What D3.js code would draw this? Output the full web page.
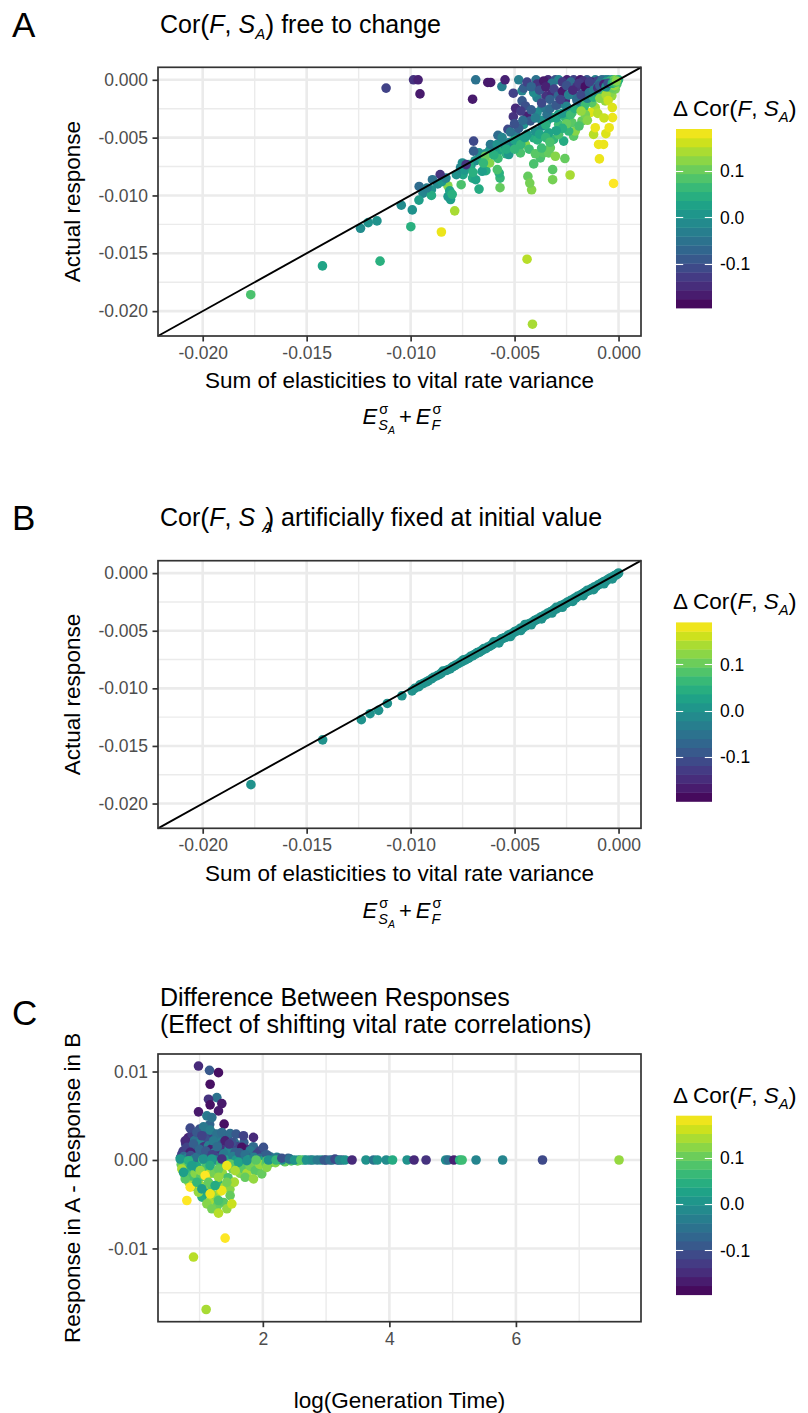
<!DOCTYPE html>
<html><head><meta charset="utf-8">
<script src="https://cdn.jsdelivr.net/npm/d3@7"></script>
<style>
body{margin:0;background:#fff}
svg{display:block}
text{font-family:"Liberation Sans",Arial,Helvetica,sans-serif;white-space:pre}
</style>
</head><body>
<svg id="chart" width="808" height="1413"></svg>
<script>
// ---------------- DATA ----------------
// Panel A: [sum of elasticities, actual response, delta Cor(F,S_A)]
const panelA = [
[-0.01769,-0.01858,0.08],[-0.01424,-0.01609,0.03],[-0.01147,-0.01568,0.05],[-0.00999,-0.01270,0.05],
[-0.01241,-0.01284,-0.01],[-0.01204,-0.01235,0.00],[-0.01162,-0.01220,0.00],[-0.01045,-0.01084,-0.01],
[-0.00992,-0.01125,0.00],[-0.00852,-0.01316,0.18],[-0.00788,-0.01133,0.14],[-0.00808,-0.01035,0.02],
[-0.00440,-0.01551,0.15],[-0.00414,-0.02113,0.14],[-0.00024,-0.00896,0.19],[-0.00092,-0.00684,0.18],
[-0.00233,-0.00823,0.14],[-0.00317,-0.00864,0.11],[-0.00317,-0.00777,0.09],[-0.00258,-0.00681,0.10],
[-0.00418,-0.00951,0.12],[-0.00436,-0.00835,0.10],[-0.00427,-0.00893,0.11],[-0.00570,-0.00933,0.10],
[-0.00570,-0.00850,0.06],[-0.00574,-0.00806,0.05],[-0.00671,-0.00945,0.04],[-0.00702,-0.00850,0.04],
[-0.00757,-0.00907,0.08],[-0.00820,-0.01010,0.01],[-0.00821,-0.00916,0.12],[-0.00812,-0.00960,0.03],
[-0.00748,-0.00820,0.03],[-0.00638,-0.00786,0.04],[-0.00583,-0.00777,0.08],[-0.00620,-0.00719,0.12],
[-0.00675,-0.00690,0.12],[-0.00940,-0.00980,-0.02],[-0.00900,-0.00950,0.00],[-0.00870,-0.00900,-0.01],
[-0.00850,-0.00880,0.01],[-0.00830,-0.00850,-0.02],[-0.00780,-0.00820,0.00],[-0.00760,-0.00760,-0.02],
[-0.00740,-0.00780,0.01],[-0.00710,-0.00740,0.02],[-0.00690,-0.00700,0.00],[-0.00660,-0.00680,0.03],
[-0.00640,-0.00640,-0.01],[-0.00620,-0.00610,0.01],[-0.00600,-0.00580,0.02],[-0.00580,-0.00620,0.03],
[-0.00560,-0.00570,0.02],[-0.00540,-0.00640,0.05],[-0.00520,-0.00540,0.01],[-0.00800,-0.00990,0.05],
[-0.00960,-0.01040,0.02],[-0.00900,-0.01000,0.04],[-0.00751,-0.00719,-0.01],[-0.00719,-0.00733,0.04],
[-0.00656,-0.00791,0.02],[-0.00687,-0.00864,0.03],[-0.00608,-0.00603,0.01],[-0.00671,-0.00632,0.00],
[-0.00496,-0.00472,-0.03],[-0.00640,-0.00661,0.10],[-0.00616,-0.00559,-0.04],[-0.00584,-0.00559,0.00],
[-0.00528,-0.00646,0.01],[-0.00552,-0.00588,0.05],[-0.00512,-0.00574,0.02],[-0.00408,-0.00501,0.04],
[-0.00448,-0.00559,0.12],[-0.00472,-0.00632,0.08],[-0.00408,-0.00727,0.08],[-0.00376,-0.00675,0.08],
[-0.00360,-0.00632,0.09],[-0.00336,-0.00632,0.10],[-0.00304,-0.00661,0.12],[-0.00328,-0.00588,0.10],
[-0.00264,-0.00530,0.04],[-0.00312,-0.00516,0.06],[-0.00288,-0.00472,0.08],[-0.00216,-0.00487,0.09],
[-0.00208,-0.00443,0.12],[-0.00288,-0.00385,0.07],[-0.00240,-0.00443,0.06],[-0.00224,-0.00371,0.09],
[-0.00176,-0.00356,0.10],[-0.00120,-0.00472,0.15],[-0.00096,-0.00559,0.18],[-0.00072,-0.00559,0.18],
[-0.00061,-0.00466,0.17],[-0.00045,-0.00414,0.18],[-0.00112,-0.00414,0.18],[-0.00029,-0.00327,0.18],
[-0.00032,-0.00139,0.13],[-0.00064,-0.00182,0.13],[-0.00112,-0.00240,0.14],[-0.00136,-0.00284,0.17],
[-0.00200,-0.00240,0.09],[-0.00259,-0.00304,0.12],[-0.00288,-0.00298,0.02],[-0.00240,-0.00255,0.00],
[-0.00192,-0.00211,0.03],[-0.00144,-0.00168,0.01],[-0.00096,-0.00124,0.04],[-0.00048,-0.00081,0.06],
[-0.00008,-0.00037,0.08],[-0.00320,-0.00327,0.04],[-0.00256,-0.00327,0.06],[-0.00224,-0.00284,0.08],
[-0.00168,-0.00240,0.06],[-0.00128,-0.00197,0.09],[-0.00080,-0.00153,0.11],[-0.00040,-0.00110,0.12],
[-0.00016,-0.00081,0.11],[-0.00440,-0.00472,0.01],[-0.00480,-0.00516,0.02],[-0.00528,-0.00545,-0.02],
[-0.00548,-0.00560,-0.01],[-0.00456,-0.00385,0.00],[-0.00400,-0.00443,0.00],[-0.00336,-0.00458,0.03],
[-0.00368,-0.00400,-0.01],[-0.00344,-0.00356,0.02],
[-0.00370,-0.00350,0.00],[-0.00350,-0.00390,0.05],[-0.00300,-0.00330,0.03],[-0.00270,-0.00290,0.01],
[-0.00230,-0.00300,0.07],[-0.00210,-0.00250,0.05],[-0.00180,-0.00200,0.02],[-0.00160,-0.00210,0.07],
[-0.00150,-0.00160,-0.02],[-0.00120,-0.00150,0.05],[-0.00100,-0.00110,0.02],[-0.00090,-0.00160,0.12],
[-0.00070,-0.00090,0.07],[-0.00060,-0.00130,0.14],[-0.00050,-0.00060,0.03],[-0.00030,-0.00070,0.10],
[-0.00020,-0.00050,0.13],[-0.00010,-0.00020,0.09],[-0.00050,-0.00180,0.16],[-0.00100,-0.00290,0.15],
[-0.00160,-0.00300,0.11],[-0.00180,-0.00270,0.13],[-0.00030,-0.00240,0.17],[-0.00070,-0.00330,0.16],
[-0.00150,-0.00350,0.12],[-0.00190,-0.00400,0.08],[-0.00250,-0.00380,0.10],[-0.00270,-0.00420,0.05],
[-0.00300,-0.00440,0.03],[-0.00500,-0.00520,0.03],[-0.00470,-0.00560,0.06],[-0.00450,-0.00500,0.02],
[-0.00430,-0.00600,0.07],[-0.00390,-0.00520,0.05],[-0.00380,-0.00470,0.03],[-0.00350,-0.00500,0.06],
[-0.00330,-0.00540,0.08],[-0.00400,-0.00640,0.09],[-0.00370,-0.00590,0.07],[-0.00540,-0.00600,0.04],
[-0.00500,-0.00600,0.06],[-0.00580,-0.00680,0.07],[-0.00600,-0.00650,0.05],[-0.00650,-0.00720,0.06],
[-0.00700,-0.00800,0.05],
[-0.00697,-0.00530,-0.11],[-0.00697,-0.00617,-0.08],[-0.00733,-0.00733,-0.14],[-0.00858,-0.00820,-0.14],
[-0.00895,-0.00864,-0.05],[-0.00959,-0.00922,-0.06],[-0.00922,-0.00936,-0.03],[-0.00532,-0.00429,-0.11],
[-0.00506,-0.00319,-0.14],[-0.00495,-0.00246,-0.15],[-0.00506,-0.00116,-0.12],[-0.00561,-0.00058,-0.03],
[-0.00546,0.00000,-0.16],[-0.00629,-0.00023,-0.17],[-0.00615,-0.00023,-0.17],[-0.00687,0.00000,-0.05],
[-0.00702,-0.00168,-0.17],[-0.00986,0.00000,-0.14],[-0.00964,0.00000,-0.16],[-0.01118,-0.00072,-0.12],
[-0.00955,-0.00122,-0.17],[-0.00480,0.00000,-0.03],[-0.00464,-0.00095,-0.02],[-0.00456,-0.00072,-0.08],
[-0.00397,0.00000,-0.05],[-0.00392,-0.00037,-0.14],[-0.00339,0.00000,-0.15],[-0.00304,0.00000,-0.10],
[-0.00288,0.00000,-0.02],[-0.00248,0.00000,-0.16],[-0.00216,0.00000,-0.12],[-0.00208,-0.00037,-0.16],
[-0.00184,0.00000,-0.17],[-0.00152,0.00000,-0.09],[-0.00112,0.00000,-0.02],[-0.00064,0.00000,-0.01],
[-0.00170,-0.00010,-0.14],[-0.00130,-0.00020,-0.16],[-0.00100,-0.00010,-0.12],[-0.00080,0.00000,-0.06],
[-0.00050,0.00000,-0.03],[-0.00030,0.00000,0.00],[-0.00270,-0.00020,-0.13],[-0.00230,-0.00020,-0.06],
[-0.00360,-0.00010,-0.17],[-0.00320,-0.00030,-0.04],[-0.00200,-0.00060,-0.14],[-0.00150,-0.00040,-0.17],
[-0.00120,-0.00050,-0.11],[-0.00090,-0.00030,-0.05],[-0.00060,-0.00020,0.02],[-0.00040,-0.00010,0.06],
[-0.00020,0.00000,0.10],[-0.00010,-0.00005,0.14],[0.00000,0.00000,0.05],
[-0.00392,-0.00153,-0.03],[-0.00408,-0.00110,-0.01],[-0.00464,-0.00182,-0.09],[-0.00448,-0.00226,-0.10],
[-0.00349,-0.00139,-0.14],[-0.00320,-0.00119,-0.15],[-0.00288,-0.00211,-0.02],[-0.00256,-0.00182,-0.15],
[-0.00208,-0.00139,-0.05],[-0.00160,-0.00095,0.00],[-0.00112,-0.00066,-0.04],[-0.00368,-0.00240,-0.04],
[-0.00440,-0.00313,-0.16],[-0.00424,-0.00356,-0.09],[-0.00392,-0.00284,-0.01],[-0.00344,-0.00298,-0.05],
[-0.00440,-0.00020,-0.12],[-0.00420,-0.00060,-0.07],[-0.00380,-0.00090,-0.10],[-0.00350,-0.00060,-0.16],
[-0.00330,-0.00170,-0.08],[-0.00310,-0.00080,-0.12],[-0.00290,-0.00140,-0.07],[-0.00270,-0.00100,-0.17],
[-0.00250,-0.00050,-0.10],[-0.00240,-0.00130,-0.03],[-0.00220,-0.00090,-0.15],[-0.00200,-0.00180,-0.06],
[-0.00190,-0.00030,-0.13],[-0.00180,-0.00130,-0.11],[-0.00160,-0.00060,-0.18],[-0.00140,-0.00110,-0.05],
[-0.00140,-0.00020,-0.12],[-0.00120,-0.00090,-0.03],[-0.00100,-0.00070,-0.14],[-0.00090,-0.00050,-0.08],
[-0.00070,-0.00040,-0.16],[-0.00060,-0.00060,0.00],[-0.00050,-0.00030,-0.10],[-0.00030,-0.00030,0.04],
[-0.00020,-0.00020,0.08],[-0.00010,-0.00010,0.12],
[-0.00580,-0.00480,-0.06],[-0.00560,-0.00500,-0.02],[-0.00520,-0.00450,-0.05],[-0.00480,-0.00420,-0.08],
[-0.00500,-0.00380,-0.10],[-0.00470,-0.00270,-0.13],[-0.00460,-0.00350,-0.06],[-0.00420,-0.00260,-0.08],
[-0.00400,-0.00330,-0.03],[-0.00370,-0.00200,-0.11],[-0.00330,-0.00250,-0.06],[-0.00300,-0.00220,-0.09],
[-0.00280,-0.00170,-0.12],[-0.00250,-0.00230,-0.02]
];

// Panel B: [sum of elasticities, actual response] (correlation fixed, delta Cor = 0)
const panelB = [
[-0.01768,-0.01836],[-0.01423,-0.01447],[-0.01237,-0.01272],[-0.01195,-0.01220],[-0.01154,-0.01191],
[-0.01112,-0.01131],[-0.01042,-0.01065],[-0.00993,-0.01022],[-0.00980,-0.01000],[-0.00960,-0.00985],
[-0.00940,-0.00958],[-0.00915,-0.00935],[-0.00890,-0.00905],[-0.00860,-0.00878],[-0.00845,-0.00850],
[-0.00820,-0.00838],[-0.00800,-0.00815],[-0.00785,-0.00800],[-0.00760,-0.00772],[-0.00745,-0.00752],
[-0.00730,-0.00745],[-0.00712,-0.00722],[-0.00695,-0.00708],[-0.00680,-0.00690],[-0.00662,-0.00676],
[-0.00648,-0.00655],[-0.00630,-0.00642],[-0.00612,-0.00625],[-0.00598,-0.00606],[-0.00580,-0.00592],
[-0.00565,-0.00572],[-0.00550,-0.00561],[-0.00532,-0.00540],[-0.00518,-0.00528],[-0.00500,-0.00508],
[-0.00485,-0.00496],[-0.00470,-0.00476],[-0.00452,-0.00463],[-0.00438,-0.00444],[-0.00420,-0.00430],
[-0.00405,-0.00412],[-0.00390,-0.00399],[-0.00372,-0.00378],[-0.00358,-0.00366],[-0.00340,-0.00346],
[-0.00325,-0.00333],[-0.00310,-0.00315],[-0.00292,-0.00300],[-0.00278,-0.00282],[-0.00260,-0.00268],
[-0.00245,-0.00250],[-0.00230,-0.00236],[-0.00212,-0.00218],[-0.00198,-0.00202],[-0.00180,-0.00186],
[-0.00165,-0.00169],[-0.00150,-0.00155],[-0.00132,-0.00137],[-0.00118,-0.00121],[-0.00100,-0.00104],
[-0.00085,-0.00088],[-0.00070,-0.00072],[-0.00052,-0.00055],[-0.00038,-0.00040],[-0.00020,-0.00022],
[-0.00005,-0.00006],[0.00000,0.00000],
[-0.00575,-0.00605],[-0.00520,-0.00550],[-0.00470,-0.00498],[-0.00420,-0.00448],[-0.00370,-0.00397],
[-0.00320,-0.00346],[-0.00270,-0.00296],[-0.00220,-0.00246],[-0.00170,-0.00195],[-0.00120,-0.00144],
[-0.00070,-0.00092],[-0.00030,-0.00050],[-0.00600,-0.00596],[-0.00450,-0.00446],[-0.00300,-0.00297],
[-0.00150,-0.00148],
[-0.00955,-0.00970],[-0.00925,-0.00945],[-0.00900,-0.00918],[-0.00872,-0.00890],[-0.00852,-0.00868],
[-0.00830,-0.00845],[-0.00810,-0.00830],[-0.00792,-0.00808],[-0.00770,-0.00786],[-0.00752,-0.00768],
[-0.00738,-0.00755],[-0.00720,-0.00738],[-0.00702,-0.00718],[-0.00688,-0.00702],[-0.00670,-0.00688],
[-0.00655,-0.00668],[-0.00638,-0.00655],[-0.00620,-0.00636],[-0.00605,-0.00618],[-0.00588,-0.00602],
[-0.00572,-0.00585],[-0.00558,-0.00568],[-0.00540,-0.00556],[-0.00525,-0.00538],[-0.00508,-0.00522],
[-0.00492,-0.00505],[-0.00478,-0.00490],[-0.00460,-0.00474],[-0.00445,-0.00458],[-0.00428,-0.00440],
[-0.00412,-0.00425],[-0.00398,-0.00408],[-0.00380,-0.00393],[-0.00365,-0.00376],[-0.00348,-0.00360],
[-0.00332,-0.00343],[-0.00318,-0.00328],[-0.00300,-0.00312],[-0.00285,-0.00295],[-0.00268,-0.00280],
[-0.00252,-0.00262],[-0.00238,-0.00247],[-0.00220,-0.00231],[-0.00205,-0.00214],[-0.00190,-0.00198],
[-0.00172,-0.00181],[-0.00158,-0.00165],[-0.00140,-0.00149],[-0.00125,-0.00132],[-0.00108,-0.00116],
[-0.00092,-0.00098],[-0.00078,-0.00084],[-0.00060,-0.00066],[-0.00045,-0.00050],[-0.00028,-0.00033],
[-0.00012,-0.00016]
];
const panelBDeltaCor = 0.0;

// Panel C: [log(generation time), response A - response B, delta Cor(F,S_A)]
const panelC = [
[0.72,0.0,0.00],[0.78,0.0,0.02],[0.88,0.0,-0.01],[0.98,0.0,0.01],[1.08,0.0,0.03],[1.18,0.0,-0.02],
[1.28,0.0,0.02],[1.38,0.0,0.00],[1.48,0.0,0.04],[1.56,0.0,-0.01],[1.66,0.0,0.02],[1.85,0.0,-0.01],
[1.98,0.0,0.03],[2.14,0.0,0.01],[2.35,0.0,-0.02],[2.65,0.0,0.02],[2.75,0.0,-0.06],[2.92,0.0,0.01],
[3.00,0.0,-0.12],[3.10,0.0,-0.04],[3.18,0.0,-0.10],[3.25,0.0,-0.08],
[0.70,0.00030,-0.08],[0.74,0.00100,-0.13],[0.78,0.00180,-0.10],[0.82,0.00250,-0.16],[0.84,0.00120,-0.07],
[0.88,0.00290,-0.13],[0.92,0.00220,-0.05],[0.94,0.00080,-0.15],[0.97,0.00160,-0.11],[1.00,0.00350,-0.10],
[1.02,0.00200,-0.02],[1.05,0.00300,-0.08],[1.07,0.00150,-0.14],[1.09,0.00050,-0.06],[1.12,0.00250,-0.10],
[1.14,0.00160,-0.03],[1.16,0.00400,-0.07],[1.18,0.00120,-0.16],[1.21,0.00300,-0.12],[1.23,0.00080,-0.05],
[1.26,0.00220,-0.09],[1.30,0.00260,-0.03],[1.32,0.00060,-0.10],[1.36,0.00180,-0.08],[1.40,0.00120,-0.12],
[1.44,0.00250,-0.09],[1.46,0.00060,-0.06],[1.50,0.00140,-0.15],[1.55,0.00200,-0.05],[1.60,0.00150,-0.12],
[1.65,0.00050,-0.03],[1.70,0.00200,-0.08],[1.75,0.00120,-0.14],[1.80,0.00040,-0.09],[1.85,0.00150,-0.06],
[1.90,0.00030,-0.04],[1.95,0.00100,-0.11],[2.00,0.00040,-0.07],[2.15,0.00010,-0.08],[2.28,0.00010,-0.03],
[0.983,0.01062,-0.15],[1.157,0.01013,-0.09],[1.299,0.00987,-0.18],[1.167,0.00856,-0.18],[1.273,0.00705,-0.05],
[1.141,0.00687,-0.14],[1.167,0.00623,-0.18],[1.352,0.00638,-0.17],[1.299,0.00555,-0.17],[0.983,0.00544,-0.17],
[1.115,0.00499,-0.04],[1.194,0.00480,-0.05],[1.388,0.00405,-0.18],[0.852,0.00360,-0.11],[1.062,0.00375,-0.04],
[0.957,0.00311,-0.09],[1.036,0.00274,-0.12],[1.167,0.00337,-0.03],[1.273,0.00292,-0.05],[1.352,0.00311,-0.06],
[1.483,0.00300,-0.06],[1.578,0.00292,-0.09],[1.694,0.00274,-0.12],[1.852,0.00255,-0.15],[1.668,0.00142,-0.18],
[0.773,0.00217,-0.15],[0.799,0.00142,-0.12],[0.904,0.00180,-0.08],[1.220,0.00217,-0.04],[1.404,0.00217,-0.16],
[1.510,0.00199,-0.10],[1.325,0.00124,-0.14],[1.457,0.00105,-0.02],[1.562,0.00086,-0.08],[1.799,0.00105,-0.04],
[1.905,0.00067,-0.12],[2.010,0.00142,-0.10],[2.221,0.00030,-0.02],[2.431,0.00010,-0.04],[2.563,0.00000,-0.01],
[0.720,0.00067,-0.12],[0.852,0.00086,-0.16],[1.010,0.00067,-0.08],[1.115,0.00030,-0.13],[1.747,0.00030,-0.11],
[2.115,0.00037,-0.05],
[0.75,0.00040,-0.06],[0.80,0.00020,-0.02],[0.86,0.00050,-0.10],[0.90,0.00000,0.03],[0.95,0.00030,-0.05],
[1.00,0.00120,-0.07],[1.05,0.00000,0.06],[1.10,0.00100,-0.09],[1.13,-0.00030,0.05],[1.20,0.00060,-0.12],
[1.25,0.00000,-0.03],[1.28,0.00150,-0.06],[1.33,-0.00040,0.07],[1.38,0.00070,-0.04],[1.42,0.00000,0.02],
[1.47,0.00180,-0.14],[1.53,0.00040,-0.03],[1.58,0.00000,0.01],[1.63,0.00080,-0.08],[1.68,-0.00060,0.08],
[1.72,0.00060,-0.05],[1.77,0.00000,0.03],[1.82,-0.00040,0.10],[1.86,0.00030,-0.03],[1.92,-0.00090,0.12],
[1.96,0.00020,-0.06],[2.02,0.00000,0.02],[2.06,0.00060,-0.08],[2.12,-0.00030,0.09],[2.17,0.00010,-0.03],
[2.25,0.00020,-0.05],[2.35,-0.00020,0.10],[2.40,0.00020,-0.08],
[0.71,-0.00050,0.10],[0.76,-0.00160,0.12],[0.80,-0.00110,0.05],[0.83,-0.00250,0.14],[0.87,-0.00180,0.08],
[0.90,-0.00300,0.10],[0.93,-0.00150,0.12],[0.96,-0.00080,0.03],[0.99,-0.00270,0.16],[1.02,-0.00190,0.09],
[1.04,-0.00420,0.05],[1.07,-0.00300,0.13],[1.09,-0.00090,0.08],[1.12,-0.00380,0.04],[1.15,-0.00160,0.15],
[1.18,-0.00450,0.14],[1.20,-0.00300,0.09],[1.23,-0.00150,0.11],[1.25,-0.00400,0.12],[1.28,-0.00520,0.10],
[1.30,-0.00270,0.06],[1.33,-0.00350,0.15],[1.36,-0.00150,0.13],[1.38,-0.00480,0.09],[1.40,-0.00300,0.14],
[1.45,-0.00200,0.08],[1.48,-0.00330,0.12],[1.52,-0.00100,0.11],[1.55,-0.00250,0.14],[1.60,-0.00060,0.06],
[1.64,-0.00150,0.12],[1.70,-0.00100,0.09],[1.75,-0.00150,0.14],[1.80,-0.00070,0.11],[1.88,-0.00120,0.09],
[1.95,-0.00050,0.13],[2.05,-0.00040,0.10],[2.20,-0.00030,0.12],[2.45,-0.00010,0.08],[2.55,-0.00010,0.11],
[0.693,0.00011,0.01],[0.825,-0.00008,0.05],[1.062,0.00011,0.00],[1.194,0.00011,0.01],[1.352,0.00011,-0.14],
[1.483,-0.00045,0.09],[1.615,-0.00026,0.03],[1.747,-0.00008,0.00],[1.894,0.00000,0.09],[2.063,-0.00008,0.08],
[2.300,0.00000,0.00],[0.720,-0.00102,0.14],[0.878,-0.00064,0.02],[1.010,-0.00120,0.13],[1.167,-0.00064,0.04],
[1.299,-0.00102,0.10],[1.431,-0.00064,0.18],[1.562,-0.00120,0.14],[1.720,-0.00196,0.10],[1.852,-0.00214,0.13],
[1.983,-0.00158,0.10],[2.063,-0.00083,0.12],[0.773,-0.00214,0.09],[0.852,-0.00308,0.19],[0.957,-0.00252,0.06],
[1.088,-0.00177,0.19],[1.141,-0.00252,0.10],[1.299,-0.00196,0.13],[1.431,-0.00252,0.11],[0.983,-0.00364,0.13],
[0.799,-0.00458,0.19],[1.167,-0.00383,0.18],[1.352,-0.00346,0.18],[1.483,-0.00402,0.10],[1.299,-0.00458,0.08],
[1.115,-0.00496,0.12],[1.194,-0.00552,0.11],[1.299,-0.00601,0.15],[1.431,-0.00552,0.13],[1.510,-0.00496,0.16],
[1.404,-0.00883,0.19],[0.904,-0.01097,0.15],[1.104,-0.01690,0.14],[1.036,-0.00327,0.02],[1.246,-0.00289,0.04],
[0.746,-0.00140,0.02],
[2.09,0,0.00],[2.21,0,0.06],[2.30,0.0002,-0.10],[2.42,0.0001,-0.05],[2.50,0,0.00],[2.60,0,0.09],
[2.69,0,0.00],[2.79,0,-0.01],[2.86,0,-0.04],[2.97,0,-0.09],[3.06,0,-0.06],[3.14,0.0001,-0.11],
[3.21,0,-0.02],[3.30,0,0.00],[3.41,0,-0.15],[3.63,0,0.00],[3.75,0,-0.05],[3.81,0,0.00],
[3.95,0,-0.01],[4.05,0,0.04],[4.28,0,0.00],[4.39,0,-0.15],[4.58,0,-0.14],[4.89,0,-0.01],
[4.93,0,-0.05],[5.02,0,-0.16],[5.11,0,0.05],[5.15,0,0.07],[5.37,0,-0.02],[5.79,0,-0.02],
[6.42,0,-0.11],[7.63,0,0.13]
];

// axis limits and ticks
const abLimits = [-0.02215, 0.00108];
const abTicks = [-0.020, -0.015, -0.010, -0.005, 0.000];
const abMinor = [-0.0175, -0.0125, -0.0075, -0.0025];
const cXLimits = [0.343, 7.977];
const cYLimits = [-0.01828, 0.01198];
const cXTicks = [2, 4, 6];
const cXMinor = [1, 3, 5, 7];
const cYTicks = [0.01, 0.00, -0.01];
const cYMinor = [0.005, -0.005, -0.015];
const colourLimits = [-0.196, 0.191];
const legendTicks = [-0.1, 0.0, 0.1];

// ---------------- DRAWING ----------------
const svg = d3.select('#chart');
svg.append('rect').attr('width',808).attr('height',1413).attr('fill','#fff');
const L = 158, R = 641;
const colour = d3.scaleSequential(d3.interpolateViridis).domain(colourLimits);
const TICK_FS = 17.5, TITLE_FS = 22.5, PLOT_TITLE_FS = 25, LETTER_FS = 35;

function rich(g, x, y, parts, size, anchor) {
  const t = g.append('text').attr('x', x).attr('y', y)
    .attr('text-anchor', anchor || 'start').style('font-size', size + 'px').attr('fill', '#000');
  let cur = 0;
  parts.forEach(p => {
    const s = t.append('tspan').text(p.t);
    const sh = p.sh || 0;
    if (sh !== cur) { s.attr('dy', sh - cur); cur = sh; }
    if (p.dx) s.attr('dx', p.dx);
    if (p.it) s.style('font-style', 'italic');
    if (p.s) s.style('font-size', (size * p.s) + 'px');
  });
  return t;
}

function formula(cx, baseline) {
  const g = svg.append('g');
  let xp = 0;
  const big = 22, small = 14.5, tiny = 10.5;
  const add = (txt, x, y, fs, it) => g.append('text').attr('x', x).attr('y', y)
      .style('font-size', fs + 'px').style('font-style', it ? 'italic' : 'normal').text(txt);
  const e1 = add('E', xp, 0, big, true); xp += e1.node().getComputedTextLength() + 1;
  const s1 = add('σ', xp + 1, -10, small, false);
  const S = add('S', xp, 6, small, true);
  const wS = S.node().getComputedTextLength();
  const A = add('A', xp + wS, 10, tiny, true);
  xp += Math.max(s1.node().getComputedTextLength() + 1, wS + A.node().getComputedTextLength()) + 4;
  const plus = add('+', xp, 0, big, false); xp += plus.node().getComputedTextLength() + 4;
  const e2 = add('E', xp, 0, big, true); xp += e2.node().getComputedTextLength() + 1;
  add('σ', xp + 1, -10, small, false);
  add('F', xp, 6, small, true);
  const bb = g.node().getBBox();
  g.attr('transform', `translate(${cx - (bb.x + bb.width / 2)},${baseline})`);
}

function legend(top) {
  const g = svg.append('g');
  rich(g, 673, top - 13, [{t:'Δ Cor'},{t:'(', s:1.08, sh:1},{t:'F', it:1},{t:', '},{t:'S', it:1},
       {t:'A', it:1, s:0.66, sh:6},{t:')', s:1.08, sh:1}], TITLE_FS);
  const barTop = top + 0, barH = 179, bx = 676, bw = 36;
  const ly = d3.scaleLinear().domain(colourLimits).range([barTop + barH, barTop]);
  const nbin = 20;
  const step = (colourLimits[1] - colourLimits[0]) / nbin;
  for (let i = 0; i < nbin; i++) {
    const v0 = colourLimits[0] + i * step, v1 = v0 + step;
    g.append('rect').attr('x', bx).attr('width', bw)
      .attr('y', ly(v1)).attr('height', ly(v0) - ly(v1) + 0.4)
      .attr('fill', colour((v0 + v1) / 2));
  }
  legendTicks.forEach(v => {
    const yy = Math.round(ly(v)) + 0.5;
    g.append('line').attr('x1', bx).attr('x2', bx + 7.2).attr('y1', yy).attr('y2', yy).attr('stroke', '#fff').attr('stroke-width', 1.1);
    g.append('line').attr('x1', bx + bw - 7.2).attr('x2', bx + bw).attr('y1', yy).attr('y2', yy).attr('stroke', '#fff').attr('stroke-width', 1.1);
    g.append('text').attr('x', 720).attr('y', ly(v)).attr('dy', '0.36em')
      .style('font-size', TICK_FS + 'px').attr('fill', '#000').text(v.toFixed(1));
  });
}

function panel(o) {
  const g = svg.append('g');
  const x = d3.scaleLinear().domain(o.xLim).range([L, R]);
  const y = d3.scaleLinear().domain(o.yLim).range([o.bottom, o.top]);
  const grid = g.append('g');
  o.xMinor.forEach(v => grid.append('line').attr('x1', x(v)).attr('x2', x(v)).attr('y1', o.top).attr('y2', o.bottom)
    .attr('stroke', '#ebebeb').attr('stroke-width', 1.4));
  o.yMinor.forEach(v => grid.append('line').attr('y1', y(v)).attr('y2', y(v)).attr('x1', L).attr('x2', R)
    .attr('stroke', '#ebebeb').attr('stroke-width', 1.4));
  o.xTicks.forEach(v => grid.append('line').attr('x1', x(v)).attr('x2', x(v)).attr('y1', o.top).attr('y2', o.bottom)
    .attr('stroke', '#ebebeb').attr('stroke-width', 2.6));
  o.yTicks.forEach(v => grid.append('line').attr('y1', y(v)).attr('y2', y(v)).attr('x1', L).attr('x2', R)
    .attr('stroke', '#ebebeb').attr('stroke-width', 2.6));
  g.append('g').selectAll('circle').data(o.data).join('circle')
    .attr('cx', d => x(d[0])).attr('cy', d => y(d[1])).attr('r', 4.8)
    .attr('fill', d => colour(o.col(d)));
  if (o.abline) {
    g.append('line').attr('x1', x(o.xLim[0])).attr('y1', y(o.xLim[0]))
      .attr('x2', x(o.xLim[1])).attr('y2', y(o.xLim[1]))
      .attr('stroke', '#000').attr('stroke-width', 1.9);
  }
  g.append('rect').attr('x', L).attr('y', o.top).attr('width', R - L).attr('height', o.bottom - o.top)
    .attr('fill', 'none').attr('stroke', '#333').attr('stroke-width', 1.7);
  const ax = g.append('g').attr('transform', `translate(0,${o.bottom})`)
    .call(d3.axisBottom(x).tickValues(o.xTicks).tickSize(5.5).tickPadding(5).tickFormat(o.xFmt));
  const ay = g.append('g').attr('transform', `translate(${L},0)`)
    .call(d3.axisLeft(y).tickValues(o.yTicks).tickSize(5.5).tickPadding(4.5).tickFormat(o.yFmt));
  [ax, ay].forEach(a => {
    a.attr('font-family', null);
    a.select('.domain').remove();
    a.selectAll('line').attr('stroke', '#333').attr('stroke-width', 1.7);
    a.selectAll('text').attr('fill', '#4d4d4d').style('font-size', TICK_FS + 'px');
  });
  g.append('text').attr('transform', `translate(72,${(o.top + o.bottom) / 2}) rotate(-90)`)
    .attr('text-anchor', 'middle').attr('dy', '0.35em').style('font-size', TITLE_FS + 'px').text(o.yTitle);
  return {x, y};
}

const abFmt = d => d.toFixed(3);
const offB = 493.4, offC = 986.7;

// Panel A
svg.append('text').attr('x', 12).attr('y', 37).style('font-size', LETTER_FS + 'px').text('A');
rich(svg, 160, 33, [{t:'Cor'},{t:'(', s:1.08, sh:1},{t:'F', it:1},{t:', '},{t:'S', it:1},
     {t:'A', it:1, s:0.6, sh:6},{t:')', s:1.08, sh:1},{t:' free to change'}], PLOT_TITLE_FS);
panel({top: 67.3, bottom: 336, xLim: abLimits, yLim: abLimits, xTicks: abTicks, yTicks: abTicks,
  xMinor: abMinor, yMinor: abMinor, xFmt: abFmt, yFmt: abFmt, data: panelA, col: d => d[2],
  abline: true, yTitle: 'Actual response'});
svg.append('text').attr('x', 399.5).attr('y', 388).attr('text-anchor', 'middle').style('font-size', TITLE_FS + 'px')
  .text('Sum of elasticities to vital rate variance');
formula(402, 424);
legend(129);

// Panel B
svg.append('text').attr('x', 12).attr('y', 37 + offB).style('font-size', LETTER_FS + 'px').text('B');
rich(svg, 160, 33 + offB, [{t:'Cor'},{t:'(', s:1.08, sh:1},{t:'F', it:1},{t:', '},{t:'S', it:1},{t:' '},
     {t:'A', it:1, s:0.6, sh:6},{t:')', s:1.08, sh:1, dx:-7},{t:' artificially fixed at initial value'}], PLOT_TITLE_FS);
panel({top: 560.7, bottom: 828.3, xLim: abLimits, yLim: abLimits, xTicks: abTicks, yTicks: abTicks,
  xMinor: abMinor, yMinor: abMinor, xFmt: abFmt, yFmt: abFmt, data: panelB, col: d => panelBDeltaCor,
  abline: true, yTitle: 'Actual response'});
svg.append('text').attr('x', 399.5).attr('y', 881).attr('text-anchor', 'middle').style('font-size', TITLE_FS + 'px')
  .text('Sum of elasticities to vital rate variance');
formula(402, 918);
legend(129 + offB);

// Panel C
svg.append('text').attr('x', 12).attr('y', 1025).style('font-size', LETTER_FS + 'px').text('C');
svg.append('text').attr('x', 160).attr('y', 1006).style('font-size', PLOT_TITLE_FS + 'px').text('Difference Between Responses');
svg.append('text').attr('x', 160).attr('y', 1033).style('font-size', PLOT_TITLE_FS + 'px').text('(Effect of shifting vital rate correlations)');
panel({top: 1054, bottom: 1321.7, xLim: cXLimits, yLim: cYLimits, xTicks: cXTicks, yTicks: cYTicks,
  xMinor: cXMinor, yMinor: cYMinor, xFmt: d => String(d), yFmt: d => d.toFixed(2), data: panelC, col: d => d[2],
  abline: false, yTitle: 'Response in A - Response in B'});
svg.append('text').attr('x', 399.5).attr('y', 1408).attr('text-anchor', 'middle').style('font-size', TITLE_FS + 'px')
  .text('log(Generation Time)');
legend(129 + offC);
</script>
</body></html>
